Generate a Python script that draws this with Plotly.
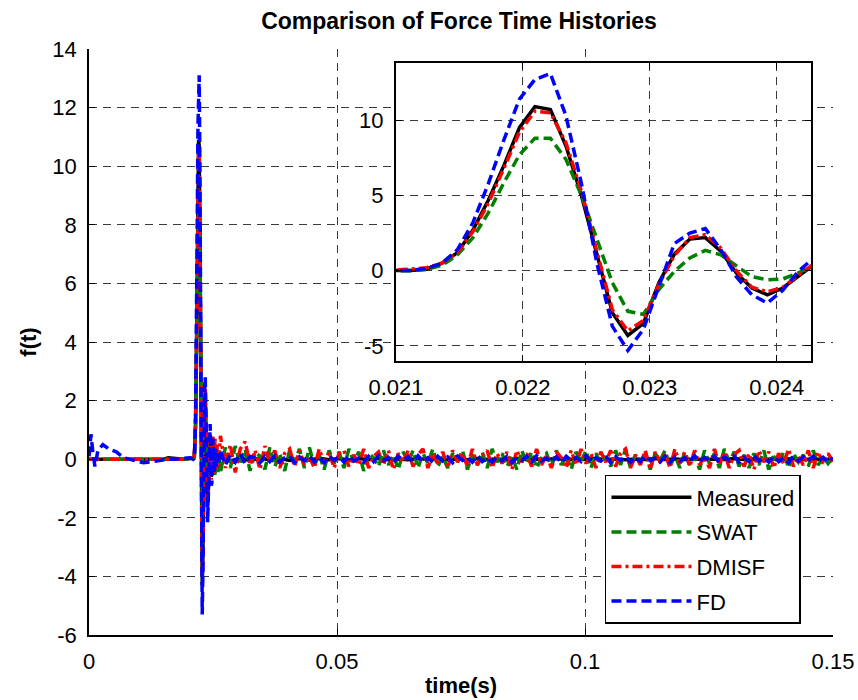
import numpy as np
import plotly.graph_objects as go

# ---------------- data ----------------
series_names = ["Measured", "SWAT", "DMISF", "FD"]
series_colors = ["#000000", "#008000", "#FF0000", "#0000FF"]

# pre-impact part (s)
t_pre = [0.0, 0.0004, 0.0008, 0.0012, 0.0018, 0.0028, 0.004, 0.0055, 0.007, 0.009,
         0.011, 0.013, 0.015, 0.016, 0.017, 0.019, 0.0205]
meas_pre = [0, 0, 0, 0, 0, 0, 0, 0, 0, 0, 0, 0, 0, 0.05, 0.03, 0, 0.02]
swat_pre = [0, 0, 0, 0, 0, 0, 0, 0, 0, 0, 0, 0, 0, 0.02, 0, 0, 0.03]
dmisf_pre = [0, 0, 0, 0, 0, 0, 0, 0, 0, 0, 0, 0, 0, 0, 0, 0, 0.04]
fd_pre = [0.1, 0.85, 0.2, -0.25, 0.3, 0.5, 0.35, 0.25, 0.05, -0.05,
          -0.12, -0.08, -0.02, 0, 0, 0.02, 0.05]

# impact part: sample index n (t = n / fs), n = 172 ... 215
fs = 8192.0
n_first = 172
meas_imp = [0, 0.02, 0.1, 0.5, 1.2, 2.7, 4.7, 7.0, 9.5, 10.9, 10.7, 8.3, 5.0, 1.2,
            -2.8, -4.3, -3.5, -0.8, 1.1, 2.1, 2.2, 1.3, -0.15, -1.15, -1.6, -1.15, -0.4, 0.4,
            0.8, 0.3, -0.6, -0.5, 0.3, 0.5, -0.2, -0.35, 0.2, 0.25, -0.15, -0.15, 0.1, 0.1, -0.05, 0.0]
swat_imp = [0, 0.0, 0.08, 0.35, 1.05, 2.2, 3.85, 5.85, 7.7, 8.8, 8.8, 7.4, 5.0, 2.1,
            -0.8, -2.7, -2.9, -1.25, -0.05, 0.85, 1.35, 1.05, 0.3, -0.4, -0.6, -0.55, -0.15, 0.35,
            0.7, 0.5, -0.2, -0.5, -0.3, 0.3, 0.4, -0.2, -0.6, -0.3, 0.4, 0.5, -0.3, -0.5, 0.3, 0.1]
dmisf_imp = [0.05, 0.1, 0.2, 0.5, 1.2, 2.6, 4.5, 6.8, 9.2, 10.6, 10.5, 8.5, 5.3, 1.3,
             -2.6, -4.0, -3.3, -0.9, 1.0, 2.2, 2.4, 1.5, 0.0, -1.1, -1.4, -1.1, -0.3, 0.45,
             0.9, 0.2, -0.7, -0.4, 0.6, 0.8, -0.3, -0.5, 0.7, 0.4, -0.4, 0.5, -0.3, 0.3, -0.2, 0.2]
fd_imp = [0, 0.02, 0.15, 0.5, 1.4, 3.2, 5.8, 8.7, 11.4, 12.7, 13.1, 10.3, 5.8, 0.5,
          -3.7, -5.3, -3.9, -1.0, 1.8, 2.5, 2.8, 1.4, -0.4, -1.6, -2.15, -1.3, -0.05, 0.85,
          1.2, 0.6, -0.9, -0.8, 0.4, 0.7, -0.3, -0.5, 0.3, 0.35, -0.2, -0.25, 0.15, 0.2, -0.1, 0.05]

# post-impact residual part, from t_noise_start to t_end (evenly spaced samples)
t_noise_start = 0.0265
t_end = 0.15
meas_noise = [0.1, -0.08, 0.05, -0.05, 0.04, -0.03, 0.03, -0.04, 0.02, -0.03, 0.03, -0.02, 0.02, -0.03,
              0.02, -0.02, 0.03, -0.02, 0.01, -0.02, 0.02, -0.01, 0.02, -0.02, 0.01, -0.02, 0.02, -0.01,
              0.01, -0.02, 0.02, -0.01, 0.01, -0.01, 0.02, -0.02, 0.01, -0.01, 0.02, -0.01, 0.01, -0.02,
              0.01, -0.01, 0.02, -0.01, 0.01, -0.01, 0.01, -0.02, 0.01, -0.01, 0.02, -0.01, 0.01, -0.01,
              0.01, -0.01, 0.02, -0.01, 0.01, -0.01, 0.0]
swat_noise = [
    -0.45, 0.4, -0.3, 0.45, -0.2, 0.35, -0.4, 0.25, 0.1, -0.35, 0.4, -0.25, 0.2, -0.4, 0.3, -0.1, 0.35, -0.3, 0.4, -0.2,
    0.15, -0.35, 0.3, -0.15, 0.25, -0.3, 0.35, -0.1, 0.25, -0.4, 0.2, 0.05, -0.25, 0.3, -0.2, 0.15, -0.35, 0.25, -0.1, 0.3,
    -0.3, 0.2, -0.15, 0.35, -0.25, 0.1, -0.3, 0.2, -0.05, 0.3, -0.35, 0.15, -0.2, 0.25, -0.3, 0.35, -0.1, 0.2, -0.25, 0.1,
    -0.35, 0.3, -0.15, 0.25, -0.3, 0.05, 0.2, -0.25, 0.3, -0.2, 0.15, -0.35, 0.25, -0.1, 0.3, -0.3, 0.2, -0.15, 0.1, -0.25,
    0.3, -0.2, 0.35, -0.3, 0.15, -0.1, 0.25, -0.35, 0.2, -0.05, 0.3, -0.25, 0.15, -0.3, 0.25, -0.2, 0.1, -0.35, 0.3, -0.15,
    0.2, -0.3, 0.35, -0.1, 0.25, -0.25, 0.15, -0.3, 0.2, -0.2, 0.3, -0.35, 0.1, -0.15, 0.25, -0.3, 0.2, -0.1, 0.15, -0.25,
    0.3, -0.2, 0.1, -0.15, 0.05]
dmisf_noise = [
    0.8, -0.3, 0.5, -0.45, 0.35, 0.6, -0.2, 0.3, -0.35, 0.45, -0.1, 0.3, -0.3, 0.2, 0.35, -0.25, 0.3, -0.2, 0.1, -0.3,
    0.35, -0.15, 0.25, -0.3, 0.2, 0.3, -0.25, 0.15, -0.2, 0.35, -0.3, 0.1, 0.25, -0.2, 0.3, -0.35, 0.2, -0.1, 0.3, -0.25,
    0.15, 0.35, -0.3, 0.2, -0.15, 0.25, -0.3, 0.3, -0.1, 0.2, -0.25, 0.35, -0.2, 0.1, 0.3, -0.3, 0.2, -0.15, 0.25, -0.35,
    0.3, -0.1, 0.2, -0.25, 0.35, -0.2, 0.15, -0.3, 0.25, 0.05, -0.3, 0.3, -0.2, 0.35, -0.15, 0.2, -0.3, 0.25, -0.1, 0.3,
    -0.25, 0.2, 0.35, -0.3, 0.15, -0.2, 0.3, -0.35, 0.25, -0.1, 0.2, -0.3, 0.35, -0.15, 0.25, -0.25, 0.3, -0.2, 0.1, -0.3,
    0.35, -0.2, 0.25, -0.3, 0.15, 0.3, -0.25, 0.2, -0.35, 0.3, -0.1, 0.25, -0.3, 0.2, -0.15, 0.35, -0.25, 0.1, -0.2, 0.3,
    -0.3, 0.25, -0.15, 0.2, -0.1]
fd_noise = [
    0.3, -0.2, 0.15, -0.1, 0.2, -0.15, 0.1, 0.05, -0.12, 0.1, -0.08, 0.12, -0.1, 0.05, 0.1, -0.12, 0.08, -0.05, 0.12, -0.1,
    0.06, -0.12, 0.1, -0.04, 0.08, -0.1, 0.12, -0.06, 0.04, -0.1, 0.1, -0.08, 0.12, -0.05, 0.06, -0.12, 0.1, -0.03, 0.08, -0.1,
    0.12, -0.08, 0.05, -0.1, 0.1, -0.06, 0.08, -0.12, 0.1, -0.04, 0.06, -0.1, 0.12, -0.08, 0.05, -0.1, 0.08, -0.06, 0.1, -0.12,
    0.06, -0.05, 0.1, -0.1, 0.12, -0.06, 0.04, -0.1, 0.08, -0.12, 0.1, -0.05, 0.06, -0.08, 0.12, -0.1, 0.05, -0.06, 0.1, -0.12,
    0.08, -0.04, 0.1, -0.1, 0.06, -0.08, 0.12, -0.05, 0.04, -0.1, 0.1, -0.12, 0.08, -0.06, 0.05, -0.1, 0.12, -0.08, 0.06, -0.04,
    0.1, -0.12, 0.08, -0.05, 0.1, -0.1, 0.06, -0.08, 0.12, -0.06, 0.04, -0.1, 0.1, -0.08, 0.05, -0.12, 0.1, -0.06, 0.08, -0.05,
    0.1, -0.08, 0.06, -0.1, 0.05]

main_xticks = [0, 0.05, 0.1, 0.15]
main_xticklabels = ["0", "0.05", "0.1", "0.15"]
main_yticks = [-6, -4, -2, 0, 2, 4, 6, 8, 10, 12, 14]
main_yticklabels = ["-6", "-4", "-2", "0", "2", "4", "6", "8", "10", "12", "14"]
inset_xticks = [0.021, 0.022, 0.023, 0.024]
inset_xticklabels = ["0.021", "0.022", "0.023", "0.024"]
inset_yticks = [-5, 0, 5, 10]
inset_yticklabels = ["-5", "0", "5", "10"]


def build(pre, imp, noise):
    t_imp = [(n_first + i) / fs for i in range(len(imp))]
    t_noise = list(np.linspace(t_noise_start, t_end, len(noise)))
    return list(t_pre) + t_imp + t_noise, list(pre) + list(imp) + list(noise)


series = [build(meas_pre, meas_imp, meas_noise),
          build(swat_pre, swat_imp, swat_noise),
          build(dmisf_pre, dmisf_imp, dmisf_noise),
          build(fd_pre, fd_imp, fd_noise)]
dashes = ["solid", "10px,5px", "10px,4px,3px,4px", "10px,5px"]

fig = go.Figure()
for name, col, dash, (tx, vy) in zip(series_names, series_colors, dashes, series):
    fig.add_trace(go.Scatter(x=tx, y=vy, mode="lines", name=name, legendgroup=name,
                             line=dict(color=col, width=3.5, dash=dash),
                             xaxis="x", yaxis="y"))
for name, col, dash, (tx, vy) in zip(series_names, series_colors, dashes, series):
    fig.add_trace(go.Scatter(x=tx, y=vy, mode="lines", name=name, legendgroup=name,
                             showlegend=False,
                             line=dict(color=col, width=3.5, dash=dash),
                             xaxis="x2", yaxis="y2"))

font_family = "Liberation Sans, Arial, sans-serif"
common = dict(showgrid=True, gridcolor="#3a3a3a", gridwidth=1, griddash="8px,6px",
              showline=True, linecolor="black", ticks="inside", ticklen=6,
              tickcolor="black", zeroline=False, ticklabelstandoff=6, automargin=False,
              tickfont=dict(size=22, color="black", family=font_family))

fig.update_layout(
    width=858, height=700,
    margin=dict(l=89, r=25, t=49, b=65),
    paper_bgcolor="white", plot_bgcolor="white",
    font=dict(family=font_family, color="black"),
    title=dict(text="<b>Comparison of Force Time Histories</b>", x=0.535, xanchor="center",
               y=0.970, yanchor="middle", font=dict(size=23, color="black")),
    xaxis=dict(domain=[0, 1], range=[0, 0.15], tickvals=main_xticks, ticktext=main_xticklabels,
               linewidth=1.5, mirror=False,
               title=dict(text="<b>time(s)</b>", font=dict(size=22), standoff=4), **common),
    yaxis=dict(domain=[0, 1], range=[-6, 14], tickvals=main_yticks, ticktext=main_yticklabels,
               linewidth=1.5, mirror=False,
               title=dict(text="<b>f(t)</b>", font=dict(size=22), standoff=10), **common),
    xaxis2=dict(domain=[0.4126, 0.9704], anchor="y2", range=[0.021, 0.02427],
                tickvals=inset_xticks, ticktext=inset_xticklabels,
                linewidth=2, mirror="ticks", **common),
    yaxis2=dict(domain=[0.4676, 0.9761], anchor="x2", range=[-6, 13.8],
                tickvals=inset_yticks, ticktext=inset_yticklabels,
                linewidth=2, mirror="ticks", **common),
    legend=dict(x=0.6935, y=0.0188, xanchor="left", yanchor="bottom",
                bgcolor="white", bordercolor="black", borderwidth=1.5,
                font=dict(size=22, color="black"), tracegroupgap=3, itemwidth=80),
    showlegend=True,
)

fig.write_html("out.html")
